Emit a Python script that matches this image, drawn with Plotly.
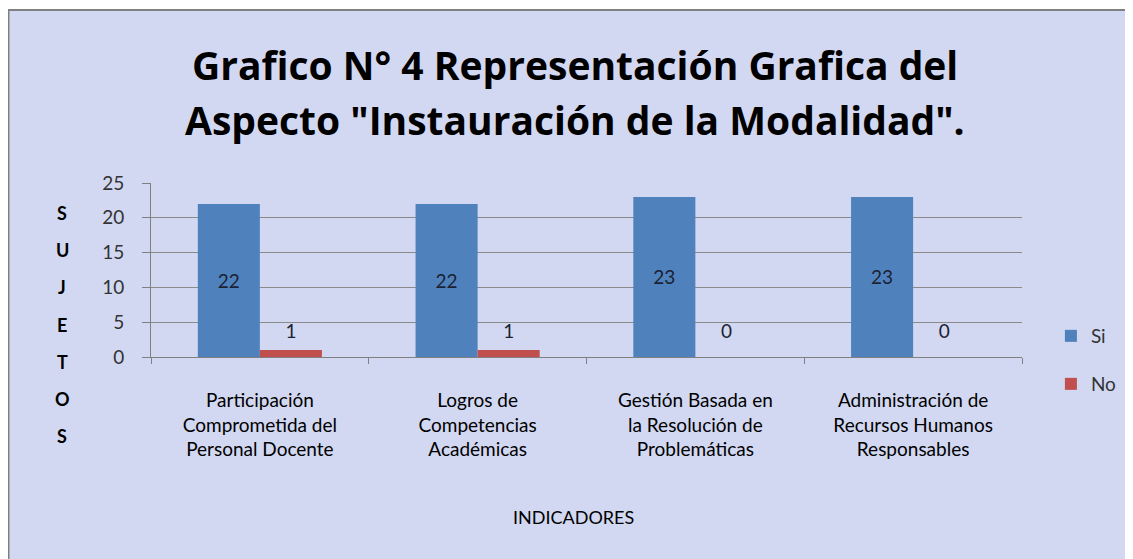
import plotly.graph_objects as go

categories = [
    "Participación<br>Comprometida del<br>Personal Docente",
    "Logros de<br>Competencias<br>Académicas",
    "Gestión Basada en<br>la Resolución de<br>Problemáticas",
    "Administración de<br>Recursos Humanos<br>Responsables",
]
si_values = [22, 22, 23, 23]
no_values = [1, 1, 0, 0]
y_ticks = [0, 5, 10, 15, 20, 25]
title_lines = ["Grafico N° 4 Representación Grafica del",
               "Aspecto \"Instauración de la Modalidad\"."]
x_title = "INDICADORES"
y_title = "SUJETOS"

FONT = "Lato"
TFONT = "Open Sans"
OFF = 8                      # page body margin
W, H = 1133 - OFF, 559 - OFF
# plot area in page px
PL, PR, PT, PB = 151, 1025, 183, 357
L, R, T, B = PL - OFF, PR - OFF, PT - OFF, PB - OFF

def px_x(p):
    return (p - PL) / (PR - PL)

def px_y(p):
    return (PB - p) / (PB - PT)

fig = go.Figure()
fig.add_trace(go.Bar(
    x=categories, y=si_values, name="Si",
    marker=dict(color="#4f81bd", line=dict(width=0)),
    text=[str(v) for v in si_values], textposition="inside",
    insidetextanchor="middle",
    textfont=dict(family=FONT, size=19, color="#1b2233"),
    legend="legend",
))
fig.add_trace(go.Bar(
    x=categories, y=no_values, name="No",
    marker=dict(color="#c0504d", line=dict(width=0)),
    legend="legend2",
))
half_w = (1 - 0.43) / 4
fig.add_trace(go.Scatter(
    x=[i + half_w for i in range(len(no_values))],
    y=[3.4] * len(no_values),
    text=[str(v) for v in no_values], mode="text",
    textfont=dict(family=FONT, size=19, color="#1b2233"),
    xaxis="x2", showlegend=False, hoverinfo="skip",
))

fig.update_layout(
    width=W, height=H,
    margin=dict(l=L, r=W - R, t=T, b=H - B, pad=0),
    paper_bgcolor="white",
    plot_bgcolor="rgba(0,0,0,0)",
    barmode="group", bargap=0.43, bargroupgap=0,
    font=dict(family=FONT, size=18, color="#222"),
    xaxis=dict(
        type="category", tickson="boundaries", ticks="outside", ticklen=6,
        tickcolor="#808080", showline=True, linecolor="#808080", linewidth=1,
        showgrid=False, tickfont=dict(family=FONT, size=19, color="#000"),
        ticklabelstandoff=26,
    ),
    xaxis2=dict(overlaying="x", range=[-0.5, 3.5], visible=False),
    yaxis=dict(
        range=[0, 25], tickvals=y_ticks, ticks="outside", ticklen=8,
        tickcolor="#808080", showline=True, linecolor="#808080", linewidth=1,
        showgrid=True, gridcolor="#8a8a8a", gridwidth=1, zeroline=False,
        tickfont=dict(family=FONT, size=19, color="#333"),
        ticklabelstandoff=14,
    ),
    legend=dict(x=px_x(1054), y=px_y(336), xanchor="left", yanchor="middle",
                bgcolor="rgba(0,0,0,0)", font=dict(family=FONT, size=19, color="#333")),
    legend2=dict(x=px_x(1054), y=px_y(384), xanchor="left", yanchor="middle",
                 bgcolor="rgba(0,0,0,0)", font=dict(family=FONT, size=19, color="#333")),
)

fig.add_shape(type="rect", xref="paper", yref="paper",
              x0=px_x(8), x1=px_x(1133 + 20), y0=px_y(559 + 20), y1=px_y(10),
              fillcolor="#d2d8f2", line=dict(color="#808080", width=2), layer="below")

for line, yc in zip(title_lines, [64, 119]):
    fig.add_annotation(text=f"<b>{line}</b>", xref="paper", yref="paper",
                       x=px_x(576), y=px_y(yc), xanchor="center", yanchor="middle",
                       showarrow=False, font=dict(family=TFONT, size=39, color="#000"))
fig.add_annotation(text=x_title, xref="paper", yref="paper",
                   x=px_x(575), y=px_y(517), xanchor="center", yanchor="middle",
                   showarrow=False, font=dict(family=FONT, size=18, color="#000"))
for i, ch in enumerate(y_title):
    fig.add_annotation(text=f"<b>{ch}</b>", xref="paper", yref="paper",
                       x=px_x(62), y=px_y(213 + 37.2 * i), xanchor="center", yanchor="middle",
                       showarrow=False, font=dict(family=FONT, size=18, color="#000"))

fig.write_html("out.html")
